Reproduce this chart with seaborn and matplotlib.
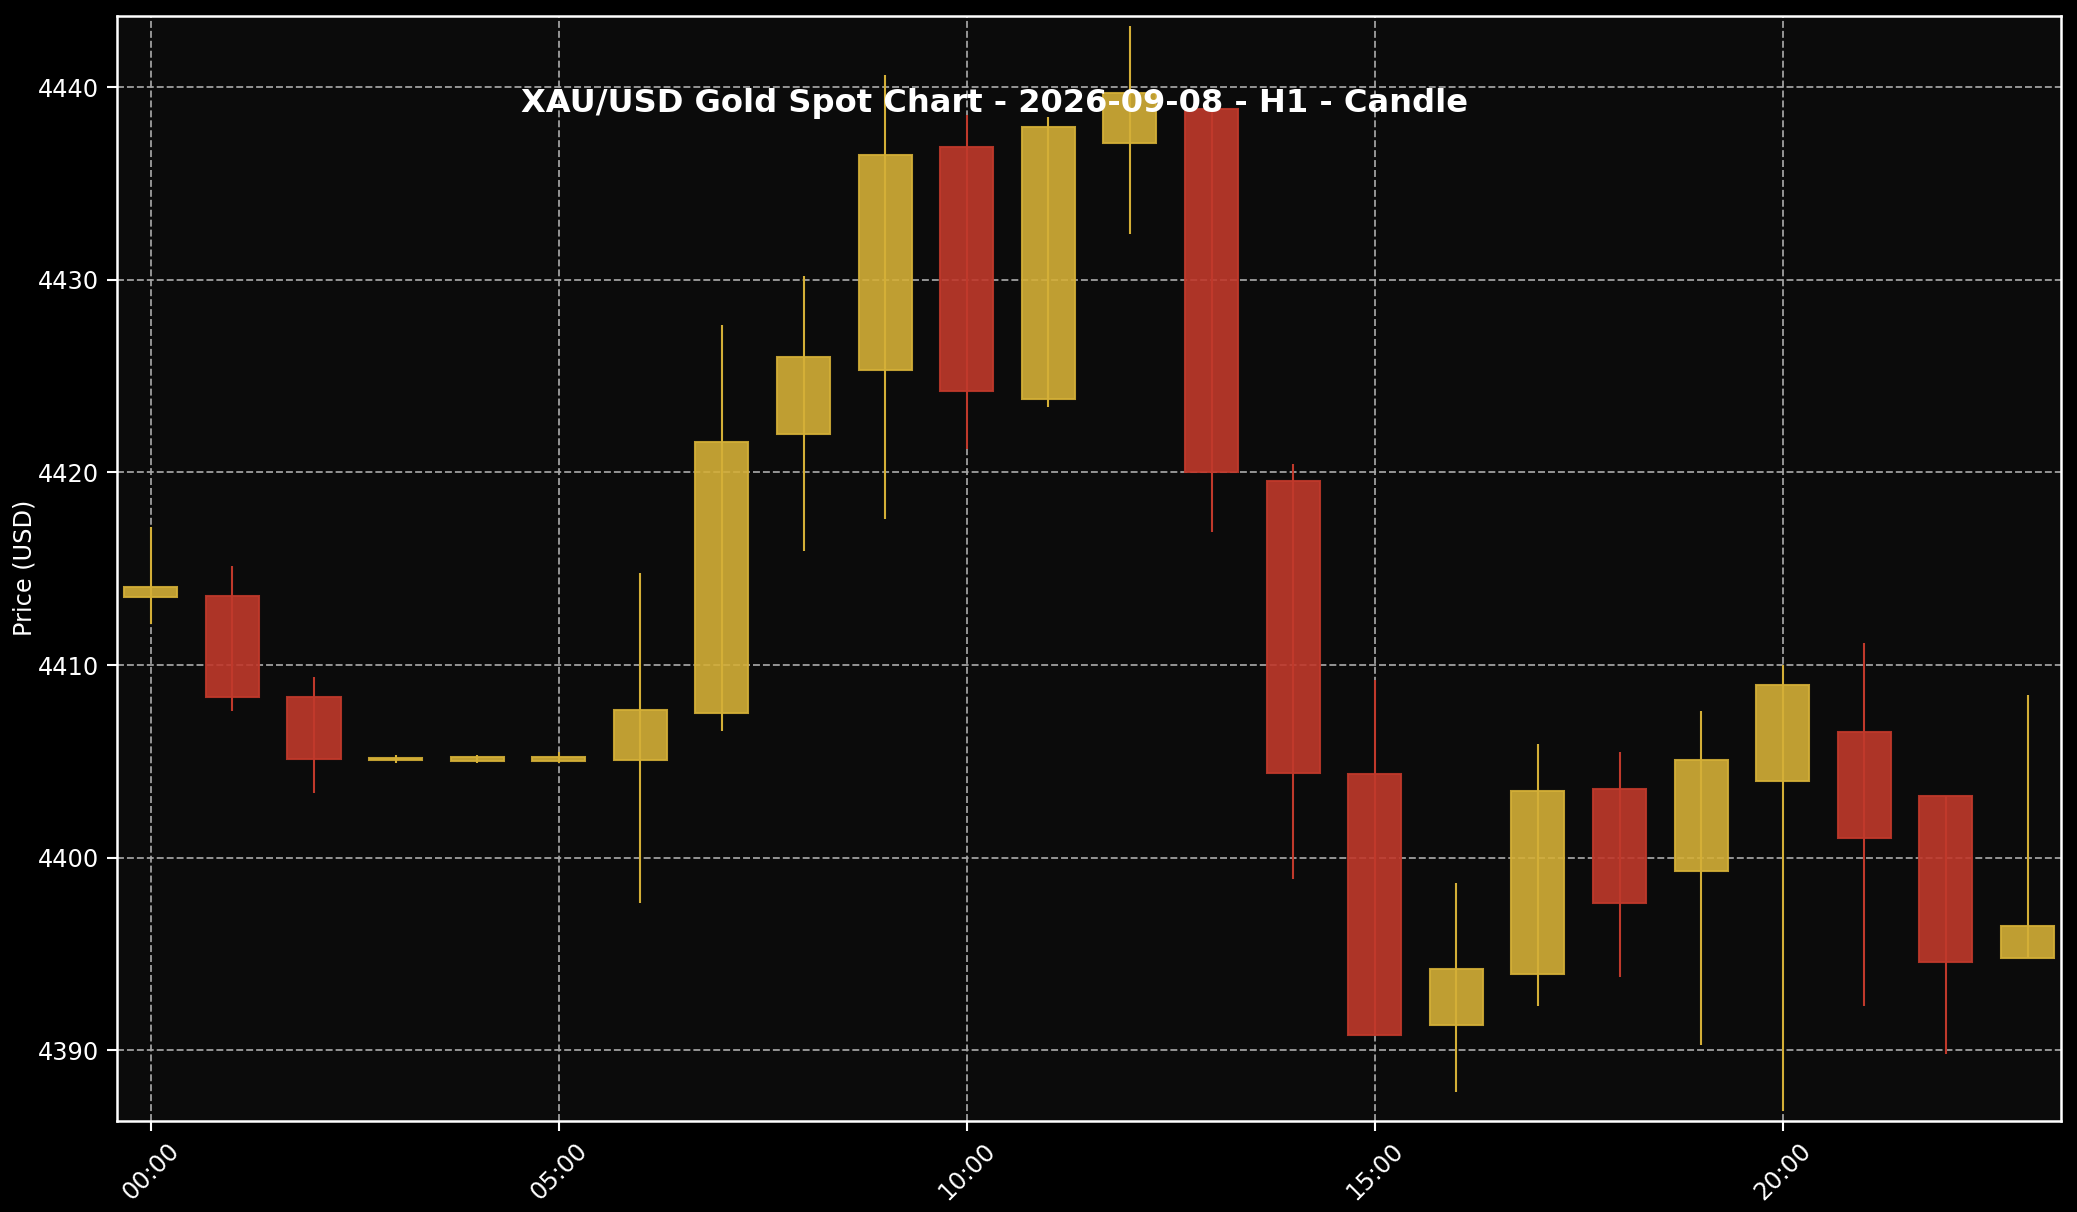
import numpy as np
import pandas as pd
import matplotlib
matplotlib.use('Agg')
import matplotlib.pyplot as plt
import seaborn as sns

# velas horarias XAU/USD 2026-09-08
horas = ['00:00', '01:00', '02:00', '03:00', '04:00', '05:00', '06:00', '07:00',
         '08:00', '09:00', '10:00', '11:00', '12:00', '13:00', '14:00', '15:00',
         '16:00', '17:00', '18:00', '19:00', '20:00', '21:00', '22:00', '23:00']
apertura = [4413.55, 4413.57, 4408.33, 4405.07, 4405.02, 4405.02, 4405.07, 4407.53,
            4421.97, 4425.30, 4436.87, 4423.82, 4437.11, 4438.84, 4419.56, 4404.33,
            4391.33, 4393.98, 4403.58, 4399.30, 4403.96, 4406.50, 4403.18, 4394.81]
maximo = [4417.15, 4415.14, 4409.38, 4405.31, 4405.31, 4405.47, 4414.78, 4427.65,
          4430.20, 4440.64, 4438.55, 4438.47, 4443.15, 4438.84, 4420.44, 4409.20,
          4398.69, 4405.88, 4405.47, 4407.60, 4410.00, 4411.15, 4403.18, 4408.43]
minimo = [4412.11, 4407.63, 4403.36, 4404.91, 4404.91, 4404.93, 4397.63, 4406.58,
          4415.94, 4417.59, 4421.20, 4423.37, 4432.37, 4416.91, 4398.87, 4390.74,
          4387.81, 4392.29, 4393.80, 4390.28, 4386.86, 4392.29, 4389.82, 4394.81]
cierre = [4414.05, 4408.35, 4405.13, 4405.17, 4405.25, 4405.25, 4407.69, 4421.57,
          4425.98, 4436.49, 4424.22, 4437.95, 4439.68, 4420.00, 4404.39, 4390.80,
          4394.23, 4403.44, 4397.63, 4405.05, 4408.95, 4401.01, 4394.57, 4396.46]
marcas = ['00:00', '05:00', '10:00', '15:00', '20:00']

df = pd.DataFrame({'hora': horas, 'open': apertura, 'high': maximo,
                   'low': minimo, 'close': cierre})
df['x'] = np.arange(len(df))
df['sube'] = df['close'] >= df['open']

oro = '#D4AF37'
rojo = '#C0392B'

sns.set_theme(style='dark')
plt.rcParams['font.family'] = ['DejaVu Sans']

fig = plt.figure(figsize=(2077 / 150, 1212 / 150), dpi=150, facecolor='black')
ax = fig.add_axes([0.0561, 0.0754, 0.9362, 0.9115])
ax.set_facecolor('#0b0b0b')

colores = [oro if s else rojo for s in df['sube']]

# mechas
ax.vlines(df['x'], df['low'], df['high'], colors=colores, linewidth=1, zorder=2)

# cuerpos
abajo = df[['open', 'close']].min(axis=1)
alto = (df['close'] - df['open']).abs()
ax.bar(df['x'], alto, bottom=abajo, width=0.65, color=colores, alpha=0.9,
       edgecolor=colores, linewidth=1, zorder=3)

ax.set_xlim(-0.42, 23.41)
ax.set_ylim(4386.35, 4443.7)

pos = [horas.index(m) for m in marcas]
ax.set_xticks(pos)
ax.set_xticklabels(marcas, rotation=45, color='white', fontsize=11.5)
ax.set_yticks([4390, 4400, 4410, 4420, 4430, 4440])
ax.tick_params(axis='y', colors='white', labelsize=11.5)
ax.tick_params(axis='x', colors='white')
ax.tick_params(bottom=True, left=True, length=5, width=1)

ax.grid(True, color='#aaaaaa', linestyle='--', linewidth=0.9, alpha=0.9, zorder=1)
ax.set_axisbelow(True)

for lado in ax.spines.values():
    lado.set_visible(True)
    lado.set_color('white')
    lado.set_linewidth(1.2)

ax.set_ylabel('Price (USD)', color='white', fontsize=11.5)
ax.yaxis.set_label_coords(-0.041, 0.5)

fig.text(0.479, 0.915, 'XAU/USD Gold Spot Chart - 2026-09-08 - H1 - Candle',
         color='white', fontsize=15.4, fontweight='bold', ha='center', va='center',
         zorder=10)

plt.savefig('out.png', dpi=150, facecolor='black')
